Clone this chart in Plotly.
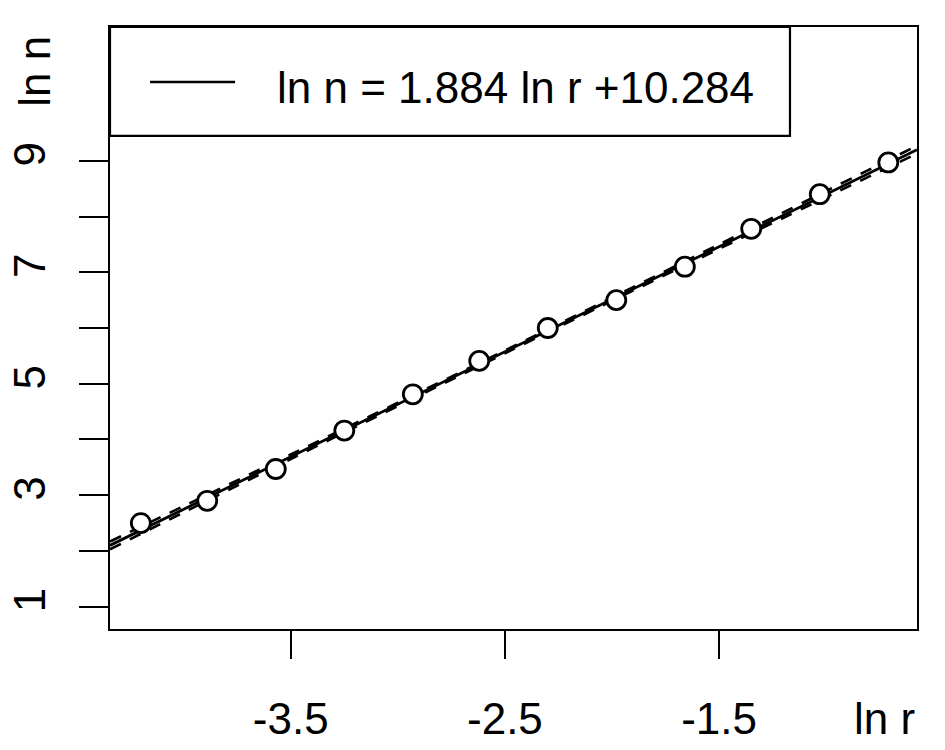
import plotly.graph_objects as go

ln_r = [-4.20, -3.89, -3.57, -3.25, -2.93, -2.62, -2.30, -1.98, -1.66, -1.35, -1.03, -0.71]
ln_n = [2.50, 2.90, 3.47, 4.16, 4.81, 5.41, 6.00, 6.50, 7.10, 7.78, 8.40, 8.97]

# fitted line ln n = 1.884 ln r + 10.284, drawn across the whole x range
fit_x = [-4.344, -0.576]
fit_y = [2.100, 9.199]

# confidence band (dashed)
band_x = [-4.344, -3.50, -2.45, -1.50, -0.576]
band_upper = [2.17, 3.73, 5.69, 7.50, 9.27]
band_lower = [2.03, 3.65, 5.64, 7.42, 9.13]

y_ticks = [1, 2, 3, 4, 5, 6, 7, 8, 9]
y_ticktext = ['1', '', '3', '', '5', '', '7', '', '9']
x_ticks = [-3.5, -2.5, -1.5]

legend_label = 'ln n = 1.884 ln r +10.284'
FONT = 'Liberation Sans'

fig = go.Figure()
fig.add_trace(go.Scatter(x=band_x, y=band_upper, mode='lines', line=dict(color='black', width=2.6, dash='12px,10px', shape='spline'), showlegend=False, hoverinfo='skip'))
fig.add_trace(go.Scatter(x=band_x, y=band_lower, mode='lines', line=dict(color='black', width=2.6, dash='12px,10px', shape='spline'), showlegend=False, hoverinfo='skip'))
fig.add_trace(go.Scatter(x=fit_x, y=fit_y, mode='lines', line=dict(color='black', width=2.8), showlegend=False, hoverinfo='skip'))
fig.add_trace(go.Scatter(x=ln_r, y=ln_n, mode='markers', marker=dict(size=19, color='white', line=dict(color='black', width=2.8)), showlegend=False, hovertemplate='ln r: %{x}<br>ln n: %{y}<extra></extra>'))

# legend box drawn by hand, R style
fig.add_shape(type='rect', xref='paper', yref='paper', x0=0, x1=0.8426, y0=0.819, y1=1, line=dict(color='black', width=2.2), fillcolor='white', layer='below')
fig.add_shape(type='line', xref='paper', yref='paper', x0=0.0496, x1=0.155, y0=0.9086, y1=0.9086, line=dict(color='black', width=2.5))
fig.add_annotation(text=legend_label, xref='paper', yref='paper', x=0.2045, y=0.9003, xanchor='left', yanchor='middle', showarrow=False, font=dict(family=FONT, size=44, color='black'))

fig.add_annotation(text='ln r', xref='paper', yref='paper', x=0.960, y=-0.148, xanchor='center', yanchor='middle', showarrow=False, font=dict(family=FONT, size=44, color='black'))
fig.add_annotation(text='ln n', xref='paper', yref='paper', x=-0.094, y=0.926, xanchor='center', yanchor='middle', textangle=-90, showarrow=False, font=dict(family=FONT, size=44, color='black'))

fig.update_layout(
    width=945, height=750,
    margin=dict(l=110, r=28, t=27, b=121),
    paper_bgcolor='white', plot_bgcolor='white',
    font=dict(family=FONT, size=44, color='black'),
    xaxis=dict(range=[-4.344, -0.576], tickvals=x_ticks, ticktext=['-3.5', '-2.5', '-1.5'], ticks='outside', ticklen=28, tickwidth=2, tickcolor='black',
               showline=True, linewidth=2.2, linecolor='black', mirror=True, showgrid=False, zeroline=False, ticklabelstandoff=22, automargin=False),
    yaxis=dict(range=[0.6, 11.4], tickvals=y_ticks, ticktext=y_ticktext, ticks='outside', ticklen=29, tickwidth=2, tickcolor='black', tickangle=-90,
               showline=True, linewidth=2.2, linecolor='black', mirror=True, showgrid=False, zeroline=False, ticklabelstandoff=16, automargin=False),
)

# drop the page's default 8px body margin so the figure sits at the window corner
fig.write_html('out.html', config={'displayModeBar': False}, post_script="document.body.style.margin='0';")
